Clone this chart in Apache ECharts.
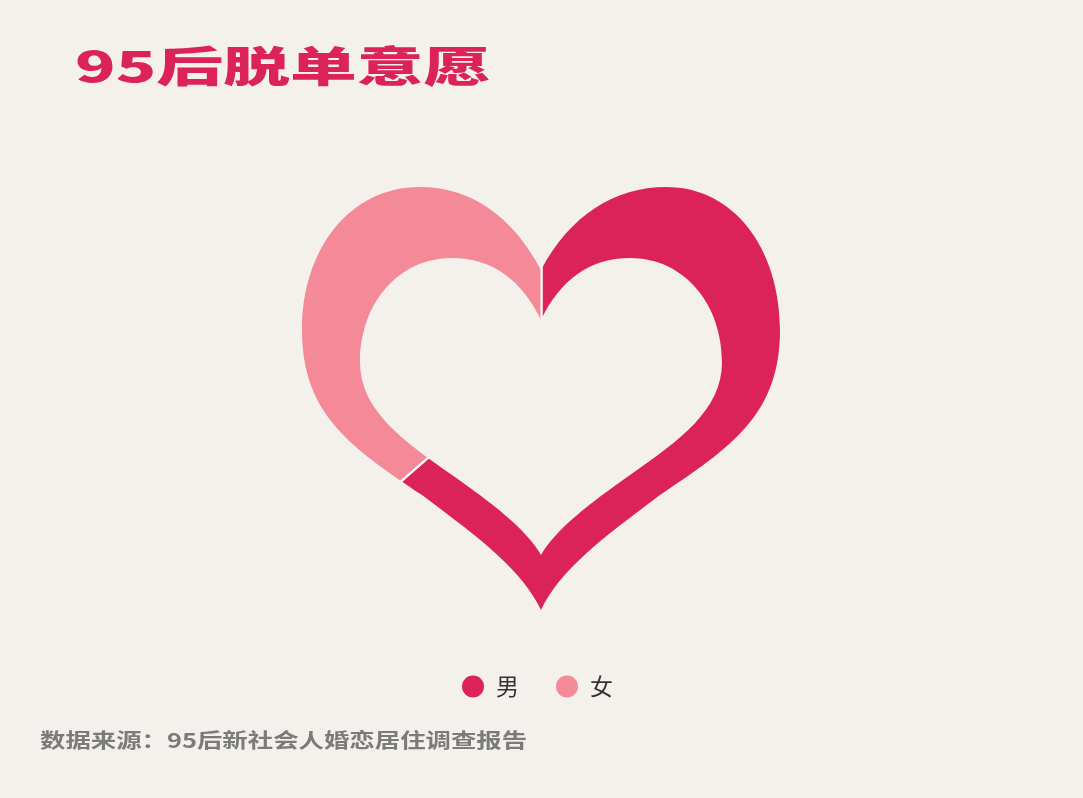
<!DOCTYPE html>
<html>
<head>
<meta charset="utf-8">
<title>95后脱单意愿</title>
<script src="https://cdn.jsdelivr.net/npm/echarts@6/dist/echarts.min.js"></script>
<style>
  html, body { margin: 0; padding: 0; background: #f4f1ec; }
  #chart { width: 1083px; height: 798px; }
</style>
</head>
<body>
<div id="chart"></div>
<script>
// 数据
const categories = ['男', '女'];
const values = [63.6, 36.4];
const colors = ['#dc2359', '#f48a97'];

const titleText = '95后脱单意愿';
const sourceText = '数据来源：95后新社会人婚恋居住调查报告';

const bg = '#f4f1ec';

// 心形遮罩：外轮廓以外 + 内轮廓以内 用背景色盖住饼图
const outerHeart = 'M541 270 C570 215 615 187 666 187 C735 187 780 250 780 330 ' +
  'C780 415 730 448 660 495 C600 540 560 570 541 610 ' +
  'C522 570 482 540 422 495 C352 448 302 415 302 330 ' +
  'C302 250 349 187 420 187 C470 187 512 215 541 270 Z';
const innerHeart = 'M541 320 C560 280 590 258 630 258 C685 258 722 305 722 362 ' +
  'C722 410 680 440 630 475 C590 503 555 530 541 555 ' +
  'C527 530 492 503 452 475 C402 440 360 410 360 362 ' +
  'C360 305 397 258 452 258 C492 258 522 280 541 320 Z';
// 外框逆时针，与顺时针的心形组成镂空
const maskRect = 'M275 94 L275 625 L808 625 L808 94 Z ';

const myChart = echarts.init(document.getElementById('chart'));

myChart.setOption({
  backgroundColor: bg,
  animation: false,
  color: colors,
  legend: {
    data: categories,
    left: 457,
    top: 670,
    icon: 'circle',
    itemWidth: 22,
    itemHeight: 22,
    itemGap: 37,
    itemStyle: { borderWidth: 0 },
    textStyle: {
      color: '#333',
      fontSize: 23,
      fontFamily: 'Noto Sans CJK SC',
      padding: [0, 0, 0, 7]
    }
  },
  graphic: [
    {
      type: 'text',
      x: 75,
      y: 66,
      scaleX: 1.59,
      style: {
        text: titleText,
        fill: '#dc2359',
        font: '900 42px "Noto Sans CJK SC"',
        verticalAlign: 'middle'
      }
    },
    {
      type: 'text',
      x: 40,
      y: 740,
      scaleX: 1.27,
      style: {
        text: sourceText,
        fill: '#7b7b7b',
        font: 'bold 20px "Noto Sans CJK SC"',
        verticalAlign: 'middle'
      }
    }
  ],
  series: [
    {
      name: '脱单意愿',
      type: 'pie',
      center: ['50%', '45%'],
      radius: [0, 262],
      startAngle: 90,
      silent: true,
      label: { show: false },
      labelLine: { show: false },
      itemStyle: {
        borderColor: '#ffffff',
        borderWidth: 2
      },
      data: categories.map(function (name, i) {
        return { name: name, value: values[i] };
      })
    },
    {
      name: 'mask',
      type: 'custom',
      coordinateSystem: 'none',
      silent: true,
      z: 10,
      data: [0],
      renderItem: function () {
        return {
          type: 'group',
          children: [
            { type: 'path', shape: { pathData: maskRect + outerHeart }, style: { fill: bg } },
            { type: 'path', shape: { pathData: innerHeart }, style: { fill: bg } }
          ]
        };
      }
    }
  ]
});
</script>
</body>
</html>
